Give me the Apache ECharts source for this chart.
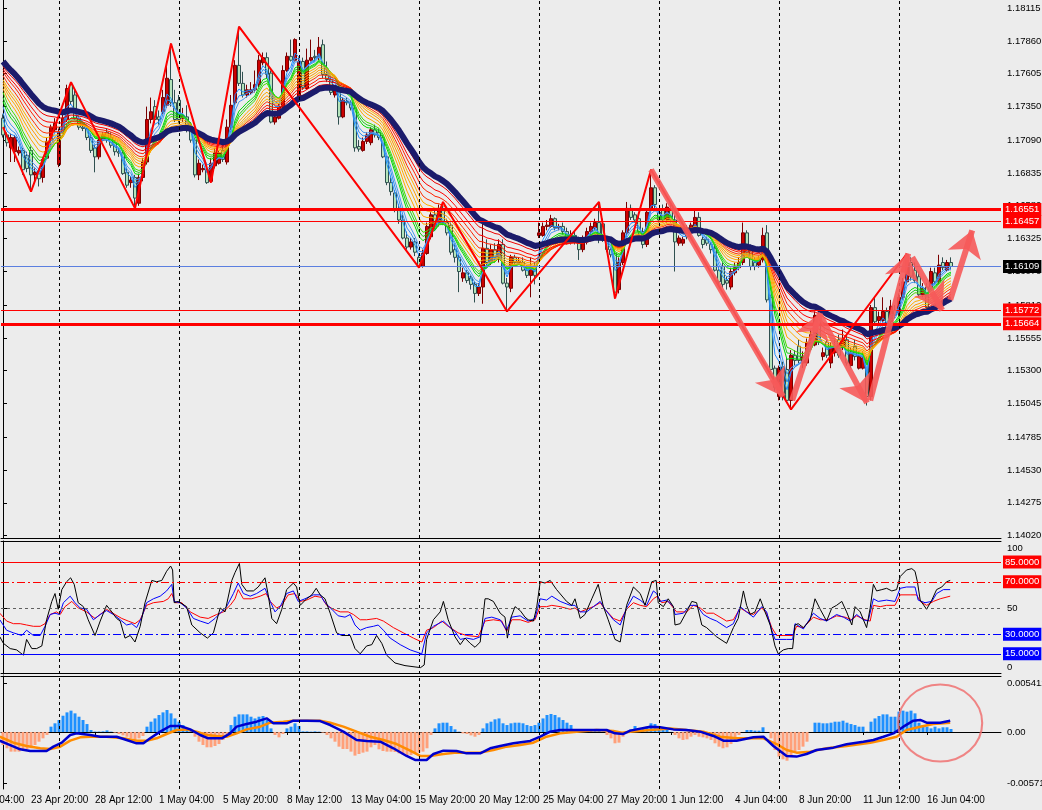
<!DOCTYPE html>
<html><head><meta charset="utf-8">
<script src="https://cdn.jsdelivr.net/npm/echarts@6/dist/echarts.min.js"></script>
<style>html,body{margin:0;padding:0;background:#ececec;}#c{width:1042px;height:810px;}</style>
</head><body><div id="c"></div>
<script>
// ---- DATA ----
// H4 candles [open, close, low, high], bar 0 = 22 Apr 16:00
const ohlc = [
[1.1726,1.1713,1.1711,1.1729],[1.1713,1.1707,1.1704,1.1715],[1.1703,1.1711,1.1692,1.1714],[1.1700,1.1711,1.1692,1.1713],[1.1699,1.1701,1.1697,1.1704],
[1.1701,1.1686,1.1682,1.1703],[1.1697,1.1687,1.1684,1.1700],[1.1701,1.1682,1.1669,1.1704],[1.1682,1.1684,1.1676,1.1687],[1.1685,1.1679,1.1673,1.1687],
[1.1680,1.1694,1.1676,1.1696],[1.1695,1.1708,1.1694,1.1711],[1.1709,1.1719,1.1705,1.1721],[1.1717,1.1722,1.1715,1.1726],[1.1690,1.1715,1.1688,1.1718],
[1.1715,1.1726,1.1714,1.1730],[1.1725,1.1749,1.1723,1.1752],[1.1752,1.1739,1.1737,1.1754],[1.1744,1.1726,1.1725,1.1748],[1.1726,1.1719,1.1717,1.1728],
[1.1719,1.1718,1.1716,1.1721],[1.1718,1.1711,1.1709,1.1721],[1.1711,1.1701,1.1699,1.1714],[1.1703,1.1696,1.1684,1.1705],[1.1696,1.1709,1.1694,1.1711],
[1.1709,1.1713,1.1708,1.1715],[1.1715,1.1709,1.1707,1.1718],[1.1711,1.1705,1.1703,1.1715],[1.1707,1.1700,1.1697,1.1709],[1.1700,1.1699,1.1696,1.1703],
[1.1699,1.1683,1.1682,1.1701],[1.1684,1.1674,1.1672,1.1687],[1.1676,1.1678,1.1672,1.1681],[1.1680,1.1664,1.1656,1.1682],[1.1660,1.1680,1.1658,1.1683],
[1.1680,1.1692,1.1677,1.1695],[1.1692,1.1725,1.1690,1.1735],[1.1725,1.1731,1.1722,1.1742],[1.1735,1.1725,1.1722,1.1740],[1.1727,1.1725,1.1721,1.1732],
[1.1731,1.1742,1.1729,1.1748],[1.1736,1.1757,1.1734,1.1770],[1.1756,1.1738,1.1735,1.1784],[1.1738,1.1725,1.1723,1.1748],[1.1740,1.1725,1.1722,1.1744],
[1.1726,1.1728,1.1723,1.1734],[1.1727,1.1717,1.1715,1.1736],[1.1719,1.1709,1.1707,1.1723],[1.1709,1.1682,1.1680,1.1711],[1.1682,1.1691,1.1678,1.1694],
[1.1686,1.1687,1.1684,1.1690],[1.1686,1.1676,1.1675,1.1690],[1.1677,1.1691,1.1676,1.1695],[1.1689,1.1699,1.1687,1.1703],[1.1691,1.1699,1.1690,1.1701],
[1.1701,1.1694,1.1692,1.1705],[1.1692,1.1719,1.1690,1.1725],[1.1719,1.1736,1.1717,1.1744],[1.1738,1.1767,1.1736,1.1771],[1.1767,1.1753,1.1751,1.1797],
[1.1753,1.1744,1.1742,1.1762],[1.1744,1.1748,1.1742,1.1752],[1.1746,1.1748,1.1744,1.1754],[1.1748,1.1752,1.1746,1.1763],[1.1752,1.1771,1.1750,1.1775],
[1.1769,1.1773,1.1767,1.1777],[1.1773,1.1760,1.1757,1.1777],[1.1761,1.1723,1.1722,1.1763],[1.1723,1.1727,1.1721,1.1730],[1.1726,1.1735,1.1725,1.1737],
[1.1735,1.1763,1.1732,1.1767],[1.1763,1.1774,1.1762,1.1777],[1.1774,1.1771,1.1770,1.1787],[1.1771,1.1787,1.1770,1.1788],[1.1742,1.1770,1.1740,1.1773],
[1.1770,1.1750,1.1748,1.1773],[1.1749,1.1771,1.1748,1.1780],[1.1771,1.1773,1.1770,1.1787],[1.1774,1.1773,1.1770,1.1779],[1.1773,1.1781,1.1771,1.1789],
[1.1783,1.1760,1.1757,1.1787],[1.1760,1.1756,1.1754,1.1770],[1.1756,1.1746,1.1744,1.1759],[1.1744,1.1748,1.1742,1.1751],[1.1748,1.1727,1.1721,1.1749],
[1.1727,1.1740,1.1726,1.1742],[1.1739,1.1738,1.1736,1.1742],[1.1738,1.1734,1.1732,1.1740],[1.1734,1.1703,1.1700,1.1736],[1.1704,1.1702,1.1700,1.1709],
[1.1701,1.1708,1.1700,1.1711],[1.1708,1.1713,1.1706,1.1715],[1.1707,1.1717,1.1705,1.1719],[1.1717,1.1713,1.1711,1.1721],[1.1715,1.1711,1.1709,1.1718],
[1.1711,1.1696,1.1695,1.1713],[1.1696,1.1676,1.1674,1.1697],[1.1676,1.1669,1.1666,1.1680],[1.1668,1.1655,1.1653,1.1670],[1.1655,1.1647,1.1644,1.1659],
[1.1647,1.1633,1.1632,1.1651],[1.1633,1.1626,1.1624,1.1638],[1.1626,1.1630,1.1624,1.1633],[1.1630,1.1622,1.1619,1.1633],[1.1618,1.1611,1.1610,1.1620],
[1.1611,1.1621,1.1610,1.1624],[1.1621,1.1642,1.1620,1.1645],[1.1634,1.1651,1.1632,1.1653],[1.1651,1.1642,1.1639,1.1656],[1.1645,1.1656,1.1642,1.1659],
[1.1656,1.1645,1.1643,1.1661],[1.1645,1.1637,1.1635,1.1648],[1.1643,1.1622,1.1620,1.1645],[1.1624,1.1618,1.1614,1.1628],[1.1618,1.1607,1.1591,1.1620],
[1.1602,1.1606,1.1599,1.1610],[1.1606,1.1600,1.1598,1.1608],[1.1602,1.1597,1.1593,1.1604],[1.1597,1.1590,1.1583,1.1599],[1.1590,1.1595,1.1588,1.1598],
[1.1595,1.1625,1.1582,1.1644],[1.1625,1.1614,1.1612,1.1632],[1.1614,1.1624,1.1612,1.1628],[1.1624,1.1618,1.1614,1.1629],[1.1618,1.1628,1.1614,1.1632],
[1.1628,1.1598,1.1597,1.1632],[1.1598,1.1595,1.1576,1.1602],[1.1594,1.1618,1.1591,1.1620],[1.1618,1.1614,1.1612,1.1620],[1.1614,1.1615,1.1612,1.1618],
[1.1614,1.1608,1.1607,1.1618],[1.1608,1.1604,1.1602,1.1612],[1.1604,1.1611,1.1587,1.1618],[1.1611,1.1604,1.1597,1.1614],[1.1635,1.1637,1.1633,1.1645],
[1.1635,1.1642,1.1634,1.1645],[1.1642,1.1643,1.1639,1.1647],[1.1642,1.1648,1.1641,1.1651],[1.1648,1.1641,1.1639,1.1649],[1.1641,1.1642,1.1639,1.1644],
[1.1642,1.1638,1.1636,1.1645],[1.1638,1.1630,1.1628,1.1641],[1.1630,1.1635,1.1628,1.1639],[1.1635,1.1632,1.1628,1.1638],[1.1632,1.1624,1.1616,1.1634],
[1.1624,1.1632,1.1622,1.1635],[1.1630,1.1638,1.1628,1.1641],[1.1638,1.1642,1.1635,1.1645],[1.1641,1.1645,1.1639,1.1648],[1.1645,1.1632,1.1629,1.1661],
[1.1644,1.1632,1.1630,1.1648],[1.1632,1.1624,1.1622,1.1634],[1.1624,1.1620,1.1618,1.1625],[1.1621,1.1591,1.1586,1.1624],[1.1593,1.1614,1.1590,1.1618],
[1.1614,1.1637,1.1612,1.1639],[1.1637,1.1656,1.1635,1.1661],[1.1656,1.1649,1.1647,1.1659],[1.1651,1.1647,1.1645,1.1653],[1.1648,1.1638,1.1635,1.1651],
[1.1638,1.1628,1.1625,1.1641],[1.1628,1.1653,1.1626,1.1655],[1.1656,1.1672,1.1655,1.1686],[1.1672,1.1659,1.1656,1.1674],[1.1653,1.1647,1.1645,1.1655],
[1.1655,1.1647,1.1645,1.1659],[1.1647,1.1657,1.1645,1.1660],[1.1655,1.1647,1.1645,1.1659],[1.1647,1.1630,1.1607,1.1651],[1.1629,1.1633,1.1627,1.1635],
[1.1629,1.1632,1.1627,1.1634],[1.1641,1.1634,1.1632,1.1643],[1.1637,1.1643,1.1635,1.1645],[1.1642,1.1649,1.1640,1.1656],[1.1649,1.1635,1.1634,1.1653],
[1.1632,1.1628,1.1625,1.1634],[1.1632,1.1629,1.1627,1.1634],[1.1628,1.1624,1.1621,1.1630],[1.1625,1.1608,1.1607,1.1628],[1.1608,1.1599,1.1597,1.1611],
[1.1611,1.1597,1.1594,1.1614],[1.1600,1.1598,1.1593,1.1603],[1.1595,1.1607,1.1593,1.1610],[1.1606,1.1610,1.1604,1.1614],[1.1610,1.1614,1.1608,1.1618],
[1.1614,1.1637,1.1612,1.1645],[1.1637,1.1622,1.1620,1.1639],[1.1624,1.1611,1.1608,1.1628],[1.1614,1.1611,1.1608,1.1618],[1.1612,1.1616,1.1610,1.1619],
[1.1616,1.1635,1.1614,1.1641],[1.1637,1.1585,1.1583,1.1643],[1.1587,1.1531,1.1529,1.1589],[1.1532,1.1517,1.1514,1.1534],[1.1510,1.1532,1.1507,1.1534],
[1.1533,1.1510,1.1507,1.1537],[1.1531,1.1507,1.1505,1.1540],[1.1507,1.1542,1.1500,1.1546],[1.1542,1.1538,1.1534,1.1546],[1.1549,1.1538,1.1536,1.1554],
[1.1536,1.1541,1.1532,1.1545],[1.1536,1.1552,1.1534,1.1555],[1.1549,1.1558,1.1546,1.1562],[1.1550,1.1573,1.1549,1.1576],[1.1573,1.1552,1.1550,1.1577],
[1.1541,1.1544,1.1538,1.1548],[1.1552,1.1542,1.1540,1.1555],[1.1536,1.1549,1.1532,1.1552],[1.1544,1.1549,1.1541,1.1554],[1.1554,1.1542,1.1540,1.1558],
[1.1548,1.1554,1.1546,1.1562],[1.1554,1.1536,1.1534,1.1558],[1.1534,1.1544,1.1532,1.1548],[1.1549,1.1541,1.1538,1.1554],[1.1532,1.1541,1.1531,1.1545],
[1.1532,1.1540,1.1531,1.1545],[1.1538,1.1510,1.1503,1.1541],[1.1510,1.1579,1.1507,1.1581],[1.1579,1.1568,1.1566,1.1587],[1.1569,1.1572,1.1567,1.1576],
[1.1569,1.1576,1.1568,1.1587],[1.1576,1.1563,1.1562,1.1579],[1.1568,1.1580,1.1566,1.1585],[1.1577,1.1573,1.1571,1.1581],[1.1575,1.1587,1.1572,1.1590],
[1.1587,1.1599,1.1585,1.1602],[1.1599,1.1620,1.1597,1.1621],[1.1614,1.1603,1.1600,1.1618],[1.1608,1.1600,1.1598,1.1614],[1.1603,1.1589,1.1587,1.1607],
[1.1589,1.1594,1.1587,1.1598],[1.1595,1.1579,1.1577,1.1598],[1.1595,1.1607,1.1593,1.1610],[1.1606,1.1599,1.1597,1.1610],[1.1599,1.1612,1.1597,1.1620],
[1.1614,1.1610,1.1608,1.1618],[1.1608,1.1614,1.1607,1.1616],[1.1614,1.16109,1.1608,1.1618]
];
// moving-average ribbon: periods, start values read at the first bar, colours
const ribbonPeriods = [3,4,5,7,8,9,11,13,15,17,19,22,25,29];
const ribbonSeeds   = [1.1725,1.1730,1.1735,1.1739,1.1742,1.1746,1.1749,1.1752,1.1754,1.1756,1.1759,1.1762,1.1764,1.1766];
const ribbonColors  = ['#1e8fff','#2f8ff0','#4a9af0','#00dd00','#22cc22','#44dd00','#ffa500','#ffaa00','#ff9900','#ffb000','#ff3300','#ff2000','#ff0000','#ee0000'];
const slowPeriod = 33, slowSeed = 1.1770;
// zigzag swing points [bar, price]
const zigzag = [[0,1.1719],[7,1.1669],[17,1.1754],[33,1.1656],[42,1.1784],[52,1.1676],[59,1.1797],[104,1.1610],[110,1.1661],[126,1.1576],[149,1.1661],[153,1.1586],[162,1.1686],[197,1.1500],[226,1.1621]];
// hand-drawn arrows [from, to]
const arrows = [
 [[162,1.1686],[195,1.1510]],
 [[197.3,1.1507],[204.3,1.1575]],
 [[204.3,1.1573],[216,1.1505]],
 [[216.8,1.1507],[226.3,1.1621]],
 [[227.3,1.1618],[234.8,1.1577]],
 [[236.8,1.1585],[242.3,1.1639]]
];
const levelPrices = [1.16551, 1.16457, 1.15772, 1.15664];
const levelWidths = [3, 1, 1, 3];
const bidPrice = 1.16109;
const priceTicks = [1.18115,1.17860,1.17605,1.17350,1.17090,1.16835,1.16580,1.16325,1.16070,1.15810,1.15555,1.15300,1.15045,1.14785,1.14530,1.14275,1.14020];
const weekStarts = [14,44,74,104,134,164,194,224];
const timeLabelIdx = [7,23,39,55,71,87,103,119,135,151,167,183,199,215,231];
const timeLabelText = ['23 Apr 20:00','28 Apr 12:00','1 May 04:00','5 May 20:00','8 May 12:00','13 May 04:00','15 May 20:00','20 May 12:00','25 May 04:00','27 May 20:00','1 Jun 12:00','4 Jun 04:00','8 Jun 20:00','11 Jun 12:00','16 Jun 04:00'];
// oscillator window [bar, value]
const oscBlack = [[-0.8,28],[0.1,23],[1.8,19],[3.4,18],[5.1,14],[5.9,26],[7.2,19],[8.4,19],[9.7,21],[10.9,41],[12.2,55],[13,61],[13.8,49],[14.7,64],[15.9,70],[16.9,73],[17.8,68],[18.8,54],[20.1,51],[21.3,41],[23,29],[24.3,40],[25.9,52],[27.2,47],[28.4,42],[29.3,40],[30.5,27],[31.8,29],[33,24],[34.3,36],[35.5,54],[37.2,71],[38.4,70],[39.7,71],[40.9,78],[41.9,82],[42.4,79],[42.8,54],[43.8,55],[45.9,51],[47.2,37],[49.3,31],[51.1,27],[52.6,31],[54.3,50],[55.5,47],[57.2,71],[58,77],[59.1,84],[59.7,68],[60.9,63],[62.6,63],[63.8,66],[65.5,73],[66.3,60],[67.2,42],[68.4,38],[69.7,49],[70.9,64],[72.6,69],[73.4,66],[74.3,52],[75.9,57],[77.2,60],[78.3,65],[79.3,60],[80.5,57],[81.8,46],[83.4,31],[84.7,29],[86.8,29],[88,19],[89.3,15],[90.9,21],[92.2,22],[93.4,29],[94.7,23],[95.9,14],[98,8],[100.5,6],[103,5],[104.4,4.5],[105.3,6.5],[105.9,26],[107.6,41],[109.3,47],[110.1,55],[111.3,41],[113,28],[114.3,22],[115.5,27],[116.8,23],[118,20],[119.3,24],[120.5,57],[121.3,57],[122.6,55],[124.3,46],[125.5,43],[126.1,27],[126.9,42],[128,51],[129.3,48],[130.5,43],[131.3,41],[132.6,40],[133.4,50],[134.3,70],[135.5,69],[136.8,71],[138.4,64],[140.9,55],[142.2,52],[143,57],[144.3,42],[145.5,45],[147.2,57],[148.8,68],[150.1,51],[151.3,41],[153,26],[154.3,24],[155.9,52],[157.6,66],[159.3,61],[160.5,52],[162.2,70],[163.3,71],[163.8,54],[165.1,51],[166.3,57],[167.6,51],[168,37],[169.3,38],[170.9,47],[172.2,55],[173.4,54],[174.7,37],[175.9,35],[178.4,28],[180.9,23],[182.6,35],[183.8,42],[185.1,63],[185.9,52],[186.8,45],[188,47],[189.3,57],[190.5,47],[191.8,37],[193,21],[193.8,15],[195.1,18],[196.3,19],[197.4,19],[198,37],[198.8,38],[200.1,35],[201.8,41],[203,57],[204.3,49],[205.9,40],[207.2,50],[208.4,52],[209.7,55],[210.9,47],[212.2,37],[213,51],[214.3,47],[215.1,41],[215.9,35],[216.8,50],[217.6,68],[218.4,63],[219.7,64],[220.9,65],[222.2,63],[223.4,64],[224.3,74],[225.9,79],[227.2,80],[228,78],[228.6,70],[229.3,56],[230.9,49],[232.2,56],[233.4,64],[234.7,66],[235.9,70],[236.8,71]];
const oscBlue = [[-0.8,41],[0.9,33],[2.6,31],[4.7,29],[5.9,33],[7.6,29],[9.3,29],[10.5,36],[11.8,45],[13,46],[14.1,45],[15.1,54],[16.8,59],[18,54],[19.3,50],[20.9,49],[22.6,41],[24.3,45],[25.9,48],[27.6,45],[29.3,41],[30.9,37],[32.2,38],[33.4,35],[34.7,43],[35.9,54],[37.6,57],[39.3,59],[40.9,63],[42.2,68],[42.8,55],[44.3,54],[45.9,50],[47.6,42],[49.3,40],[51.3,38],[53,42],[54.3,46],[55.9,51],[57.6,61],[58.8,69],[60.1,61],[61.8,59],[63.4,61],[65.5,65],[66.8,55],[68,47],[69.3,51],[70.9,61],[72.6,63],[73.8,55],[75.5,57],[77.6,60],[79.3,60],[80.5,54],[82.2,49],[83.8,44],[85.5,43],[86.8,45],[88,37],[89.3,33],[90.9,35],[92.6,36],[93.8,37],[95.1,33],[96.8,27],[99.3,22],[101.8,18],[104.7,15],[105.9,31],[107.6,36],[110.1,40],[111.8,35],[113,32],[114.3,26],[115.9,27],[117.6,26],[119.3,28],[120.5,42],[122.2,43],[124.3,41],[125.9,33],[127.2,43],[129.3,44],[131.3,40],[133,42],[134.3,57],[135.9,56],[137.2,59],[139.3,55],[141.8,52],[143,52],[144.3,47],[145.9,47],[147.6,51],[149.3,55],[150.5,49],[152.6,41],[154.3,37],[155.9,50],[157.6,59],[159.3,56],[160.9,52],[162.6,63],[163.4,61],[164.3,55],[165.9,56],[167.6,51],[168,45],[170.1,46],[171.8,52],[173.4,52],[175.1,45],[176.8,42],[178.4,40],[180.9,35],[182.6,38],[184.3,51],[185.9,47],[187.6,43],[189.7,51],[190.9,47],[192.2,33],[193,26],[195.9,26],[197.4,26],[198,38],[200.1,34],[202.6,46],[204.3,42],[205.9,40],[208.4,45],[210.1,43],[211.8,40],[213.4,45],[215.1,41],[216.3,40],[217.6,57],[218.8,55],[220.9,56],[223,55],[224.3,65],[225.9,66],[228,66],[228.8,56],[230.5,54],[232.2,55],[233.4,61],[235.1,64],[236.8,64]];
const oscRed = [[-0.8,46],[0.9,40],[2.6,38],[4.3,38],[5.9,37],[7.6,36],[9.3,36],[10.5,38],[11.8,45],[13.4,47],[14.3,45],[15.5,51],[17.2,55],[18.8,50],[20.9,47],[23,42],[24.3,45],[25.9,49],[28,45],[29.7,42],[31.3,40],[33,38],[34.3,41],[35.9,52],[37.6,54],[40.1,55],[41.3,57],[42.2,61],[43,54],[44.7,54],[46.8,47],[49.3,43],[51.3,42],[53.4,45],[55.1,47],[56.8,52],[58,57],[58.8,64],[60.1,57],[62.2,57],[64.3,59],[65.8,61],[66.8,55],[68.4,50],[69.7,52],[71.3,60],[73,61],[74.3,55],[75.9,56],[78,59],[79.7,58],[80.9,52],[82.6,49],[84.3,47],[86.3,47],[87.6,45],[89.3,41],[90.9,41],[93.4,42],[95.1,40],[97.6,35],[100.1,31],[102.6,27],[104.7,24],[105.9,33],[107.6,35],[109.7,40],[111.3,36],[113.8,31],[115.9,29],[118.8,28],[120.5,40],[122.6,41],[124.7,40],[125.9,32],[127.2,41],[129.3,41],[131.3,39],[133,41],[134.3,51],[135.9,51],[137.2,52],[139.3,51],[141.8,49],[143,50],[144.3,47],[145.9,49],[147.6,51],[149.3,54],[150.5,49],[152.6,42],[154.3,40],[155.9,49],[157.6,54],[159.3,52],[160.9,51],[162.6,57],[163.6,59],[164.7,54],[166.3,55],[167.6,50],[168.4,47],[170.9,47],[172.6,52],[174.3,50],[175.9,46],[177.6,46],[180.9,40],[182.6,41],[184.3,50],[185.9,47],[187.6,45],[189.7,50],[190.9,46],[192.2,35],[193.4,29],[197.4,29],[198.4,36],[200.1,35],[202.6,43],[204.3,41],[206.3,41],[208.4,44],[210.5,43],[212.2,41],[213.4,44],[215.5,41],[216.8,40],[217.6,52],[219.3,51],[220.9,52],[223,52],[224.3,60],[226.8,60],[228.4,60],[229.3,55],[230.9,52],[232.6,55],[234.3,57],[236.8,59]];
const oscLevels = [85, 70, 50, 30, 15];
// MACD-type window
const macdHist = [-0.00144,-0.0018,-0.00217,-0.00217,-0.00217,-0.002,-0.0019,-0.0018,-0.00144,-0.00107,
-0.0007,-0.00033,0.00059,0.00096,0.00133,0.0018,0.00217,0.00236,0.00206,0.00169,
0.00133,0.00088,0.00022,0.00005,0.00005,0.00007,0.00018,0.00004,-0.00007,-0.00022,
-0.00037,-0.00052,-0.0007,-0.00088,-0.0007,-0.00044,0.00059,0.00114,0.0015,0.00188,
0.00217,0.00243,0.00206,0.0015,0.00114,0.00077,0.0004,0.00022,-0.00052,-0.00107,
-0.00144,-0.00169,-0.00169,-0.00155,-0.00133,-0.00088,-0.00033,0.00077,0.00169,0.00195,
0.00195,0.00195,0.00169,0.0015,0.00169,0.00177,0.00133,0.0004,-0.00033,-0.00059,
-0.00022,0.0004,0.00059,0.00096,0.00066,0.00007,0.00007,0.00004,0.00007,0.00004,
-0.00007,-0.00033,-0.0007,-0.00107,-0.00162,-0.00188,-0.00188,-0.00217,-0.00261,-0.00243,
-0.00228,-0.00217,-0.00169,-0.00144,-0.00191,-0.0021,-0.00217,-0.00217,-0.00221,-0.00236,
-0.00247,-0.00254,-0.00254,-0.00236,-0.00228,-0.00217,-0.0018,-0.00033,0.0004,0.00096,
0.00103,0.00103,0.00066,0.00029,0.00004,-0.00015,-0.00022,-0.00037,-0.00052,-0.00033,
0.0004,0.00096,0.00114,0.0014,0.0015,0.00096,0.00077,0.00096,0.00103,0.00103,
0.00096,0.00077,0.00066,0.00077,0.00103,0.0015,0.00188,0.00199,0.00188,0.00162,
0.00133,0.00103,0.00077,0.00029,0.00007,0.00015,0.00015,0.00015,0.00018,0.00022,
0.00002,-0.00033,-0.0007,-0.00125,-0.00118,-0.00052,0.00002,0.00029,0.00066,0.00029,
0.0004,0.00059,0.00096,0.00088,0.00029,0.00022,0.00029,0.00002,-0.00033,-0.0007,
-0.00088,-0.00081,-0.00052,-0.00033,-0.00052,-0.00059,-0.0007,-0.00088,-0.00125,-0.00162,
-0.0018,-0.00169,-0.00133,-0.00088,-0.00033,0,0.00022,0.00022,0.00015,0.00015,
0.00052,0,-0.0007,-0.00199,-0.00272,-0.00302,-0.00317,-0.00265,-0.00217,-0.00199,
-0.00162,-0.00107,0,0.00103,0.00103,0.00096,0.00096,0.00103,0.00114,0.00114,
0.00125,0.00103,0.00088,0.00077,0.00059,0.00059,0.00004,0.00114,0.0015,0.00177,
0.00195,0.00195,0.00169,0.00169,0.00225,0.00236,0.00225,0.00236,0.00206,0.00103,
0.00077,0.00059,0.0004,0.00059,0.0004,0.00052,0.00052,0.00033];
const macdMain = [[-0.8,-0.00096],[1.8,-0.00144],[4.3,-0.00191],[6.8,-0.0021],[10.9,-0.0021],[12.6,-0.00162],[14.7,-0.00118],[16.8,-0.00033],[18.4,-0.00015],[21.8,-0.00033],[24.3,-0.00052],[28.4,-0.00052],[30.9,-0.00088],[33.4,-0.00125],[35.1,-0.00125],[36.8,-0.0007],[39.3,0.00004],[41.8,0.00066],[44.3,0.00066],[46.8,0.00029],[49.3,-0.00033],[51.3,-0.0007],[54.7,-0.0007],[56.8,-0.00015],[58.4,0.00059],[60.9,0.00088],[63.4,0.00114],[65.9,0.00151],[67.6,0.00096],[70.9,0.00096],[72.6,0.00125],[75.9,0.00125],[79.3,0.00121],[81.8,0.00077],[85.1,0.00004],[88.4,-0.00088],[90.9,-0.00099],[94.3,-0.00107],[97.6,-0.0018],[100.9,-0.00265],[103,-0.00309],[105.9,-0.00309],[107.6,-0.00243],[110.1,-0.00206],[113.4,-0.0021],[115.9,-0.00236],[119.3,-0.00236],[121.8,-0.0018],[124.3,-0.00155],[127.6,-0.00125],[131.8,-0.00099],[134.3,-0.00052],[136.8,0.00004],[139.3,0.00022],[148.4,0.00022],[150.9,0.00022],[153,-0.00015],[155.1,-0.00022],[156.8,0.00015],[161.8,0.00059],[164.3,0.00052],[167.6,0.00029],[170.9,0.00022],[174.3,0.00004],[177.6,-0.00044],[180.1,-0.00096],[183.4,-0.00096],[187.6,-0.00059],[190.1,-0.00052],[192.6,-0.00155],[195.9,-0.00265],[198.4,-0.00272],[200.9,-0.00243],[203.4,-0.00199],[207.6,-0.00173],[210.9,-0.00136],[215.1,-0.00107],[217.6,-0.00088],[220.1,-0.00052],[222.6,-0.00015],[225.1,0.00059],[227.6,0.00125],[229.3,0.00133],[230.9,0.00103],[234.3,0.00103],[236.8,0.00125]];
const macdSignal = [[-0.8,-0.00052],[2.6,-0.00118],[5.9,-0.00155],[9.3,-0.0018],[11.8,-0.00188],[14.3,-0.00162],[16.8,-0.00096],[19.3,-0.00059],[21.8,-0.00052],[25.9,-0.00052],[30.1,-0.0007],[33.4,-0.00096],[35.9,-0.00096],[38.4,-0.0007],[40.9,-0.00022],[43.4,0.00022],[45.9,0.00029],[48.4,0.00004],[50.9,-0.00033],[53.4,-0.00044],[55.9,-0.00052],[58.4,-0.00015],[60.9,0.00029],[64.3,0.00059],[66.8,0.00103],[70.1,0.00114],[72.6,0.00125],[79.3,0.00125],[81.8,0.00103],[85.1,0.00059],[88.4,0.00004],[91.8,-0.00052],[95.1,-0.00088],[98.4,-0.00133],[101.8,-0.00206],[104.3,-0.00265],[106.8,-0.00265],[110.1,-0.00243],[113.4,-0.00228],[119.3,-0.00228],[122.6,-0.00199],[125.9,-0.00162],[129.3,-0.00144],[132.6,-0.00118],[135.9,-0.00052],[139.3,-0.00015],[143.4,0.00004],[148.4,0.00022],[152.6,0.00011],[154.7,-0.00007],[156.8,0.00004],[161.8,0.00022],[166.8,0.0004],[170.9,0.00022],[175.1,0.00004],[179.3,-0.00052],[183.4,-0.0007],[190.1,-0.0007],[193.4,-0.00133],[195.9,-0.00199],[198.4,-0.00228],[201.8,-0.00217],[205.9,-0.0018],[210.9,-0.00155],[216.8,-0.00118],[220.1,-0.00088],[223.4,-0.00052],[225.9,0.00022],[229.3,0.00059],[232.6,0.00088],[236.8,0.00103]];
const macdCircle = [234.3, 0.00099];

// ---- CHART ----
const N = 250;
const F = '"Liberation Sans", Arial, sans-serif';
const cats = Array.from({length: N}, (_, i) => String(i));
const closes = ohlc.map(r => r[1]);
function ema(period, seed) {
  const k = 2 / (period + 1); let e = seed;
  return closes.map((c, i) => { if (i > 0) e += k * (c - e); return +e.toFixed(6); });
}
const X = {min: -0.5, max: N - 0.5};
function vLines(xi, yi) {
  return {type: 'line', xAxisIndex: xi, yAxisIndex: yi, data: [], z: 1, silent: true,
    markLine: {symbol: 'none', silent: true, animation: false, label: {show: false},
      lineStyle: {color: '#000', type: [3, 3], width: 1},
      data: weekStarts.map(v => ({xAxis: v}))}};
}
function tag(text, bg) {
  return {show: true, position: 'end', distance: 2, formatter: text, backgroundColor: bg, color: '#fff',
    fontFamily: F, fontSize: 9.5, padding: [2, 2, 1, 2]};
}
const series = [];
series.push(vLines(1, 0), vLines(2, 1), vLines(3, 2));
series.push({type: 'candlestick', xAxisIndex: 0, yAxisIndex: 0, data: ohlc, barWidth: 3, z: 2,
  itemStyle: {color: '#cc0000', color0: '#b4e4ba', borderColor: '#7a0000', borderColor0: '#2f4f4f', borderWidth: 1},
  markLine: {symbol: 'none', silent: true, animation: false, precision: 5,
    data: levelPrices.map((v, k) => ({yAxis: v, lineStyle: {color: '#ff0000', width: levelWidths[k], type: 'solid'},
      label: tag(v.toFixed(5), '#ff0000')})).concat([{yAxis: bidPrice, lineStyle: {color: '#5b7fe0', width: 1, type: 'solid'},
      label: tag(bidPrice.toFixed(5), '#000000')}])}});
ribbonPeriods.forEach((p, k) => series.push({type: 'line', xAxisIndex: 0, yAxisIndex: 0, data: ema(p, ribbonSeeds[k]),
  symbol: 'none', z: 3, lineStyle: {width: 1, color: ribbonColors[k]}}));
series.push({type: 'line', xAxisIndex: 0, yAxisIndex: 0, data: ema(slowPeriod, slowSeed), symbol: 'none', z: 4,
  lineStyle: {width: 6, color: '#1b1b6b'}});
series.push({type: 'line', xAxisIndex: 1, yAxisIndex: 0, data: zigzag, symbol: 'none', z: 5,
  lineStyle: {width: 2, color: '#ff0000'}});
series.push({type: 'lines', coordinateSystem: 'cartesian2d', xAxisIndex: 1, yAxisIndex: 0, z: 6,
  symbol: ['none', 'arrow'], symbolSize: [20, 26],
  lineStyle: {color: '#f65a5a', width: 6, opacity: 0.9},
  data: arrows.map(a => ({coords: a}))});
// oscillator
const oscStyle = {85: ['#ff0000', 'solid', '#ff0000'], 70: ['#ff0000', [8, 3, 2, 3], '#ff0000'], 50: ['#606060', [3, 3], null],
  30: ['#0000ff', [8, 3, 2, 3], '#0000ff'], 15: ['#0000ff', 'solid', '#0000ff']};
series.push({type: 'line', xAxisIndex: 2, yAxisIndex: 1, data: [], z: 2, silent: true,
  markLine: {symbol: 'none', silent: true, animation: false, precision: 4,
    data: oscLevels.map(v => ({yAxis: v, lineStyle: {color: oscStyle[v][0], type: oscStyle[v][1], width: 1},
      label: oscStyle[v][2] ? tag(v.toFixed(4), oscStyle[v][2]) : {show: false}}))}});
[[oscRed, '#ff0000'], [oscBlue, '#0000ff'], [oscBlack, '#000000']].forEach(([d, c]) =>
  series.push({type: 'line', xAxisIndex: 2, yAxisIndex: 1, data: d, symbol: 'none', z: 3, lineStyle: {width: 1, color: c}}));
// macd
series.push({type: 'bar', xAxisIndex: 6, yAxisIndex: 2, data: macdHist, barWidth: 3, z: 2,
  itemStyle: {color: p => p.value >= 0 ? '#1e90ff' : '#ffa07a'}});
series.push({type: 'line', xAxisIndex: 3, yAxisIndex: 2, data: macdSignal, symbol: 'none', z: 3, lineStyle: {width: 2.5, color: '#ff8c00'}});
series.push({type: 'line', xAxisIndex: 3, yAxisIndex: 2, data: macdMain, symbol: 'none', z: 4, lineStyle: {width: 2.5, color: '#0000cd'}});
series.push({type: 'scatter', xAxisIndex: 3, yAxisIndex: 2, data: [macdCircle], symbol: 'circle', symbolSize: [84, 77], z: 5,
  itemStyle: {color: 'rgba(0,0,0,0)', borderColor: '#f06a6a', borderWidth: 2}});

const gridStyle = {show: true, borderWidth: 0, backgroundColor: '#ececec', containLabel: false, outerBoundsMode: 'none'};
const axisLbl = {fontFamily: F, fontSize: 9.5, color: '#000', margin: 6};
const frame = {axisLine: {show: true, lineStyle: {color: '#000', width: 1}}, axisTick: {show: false}, axisLabel: {show: false}, splitLine: {show: false}};
const option = {
  animation: false,
  backgroundColor: '#ececec',
  grid: [
    Object.assign({left: 1, top: -1, width: 1000, height: 539}, gridStyle),
    Object.assign({left: 1, top: 541, width: 1000, height: 133}, gridStyle),
    Object.assign({left: 1, top: 676, width: 1000, height: 113}, gridStyle)
  ],
  xAxis: [
    {type: 'category', gridIndex: 0, data: cats, boundaryGap: true, show: false},
    Object.assign({type: 'value', gridIndex: 0, position: 'bottom'}, frame, X),
    Object.assign({type: 'value', gridIndex: 1, position: 'bottom'}, frame, X),
    Object.assign({type: 'value', gridIndex: 2, splitLine: {show: false},
      axisLine: {show: true, lineStyle: {color: '#000'}},
      axisTick: {show: true, customValues: timeLabelIdx, length: 3, inside: false, lineStyle: {color: '#000'}},
      axisLabel: Object.assign({}, axisLbl, {fontSize: 10, customValues: timeLabelIdx, align: 'left', margin: 6,
        formatter: v => timeLabelText[timeLabelIdx.indexOf(Math.round(v))] || ''})}, X),
    Object.assign({type: 'value', gridIndex: 1, position: 'top'}, frame, X),
    Object.assign({type: 'value', gridIndex: 2, position: 'top'}, frame, X),
    {type: 'category', gridIndex: 2, data: cats, boundaryGap: true, show: false}
  ],
  yAxis: [
    {type: 'value', gridIndex: 0, position: 'right', min: 1.14002, max: 1.18185, splitLine: {show: false},
      axisLine: {show: true, lineStyle: {color: '#000'}},
      axisTick: {show: true, customValues: priceTicks, length: 4, lineStyle: {color: '#000'}},
      axisLabel: Object.assign({}, axisLbl, {customValues: priceTicks, formatter: v => v.toFixed(5)})},
    {type: 'value', gridIndex: 1, position: 'right', min: -0.4, max: 101.1, splitLine: {show: false},
      axisLine: {show: true, lineStyle: {color: '#000'}},
      axisTick: {show: true, customValues: [50], length: 4, lineStyle: {color: '#000'}},
      axisLabel: Object.assign({}, axisLbl, {customValues: [5, 50, 95.8],
        formatter: v => v > 90 ? '100' : (v < 10 ? '0' : '50')})},
    {type: 'value', gridIndex: 2, position: 'right', min: -0.0063, max: 0.00619, splitLine: {show: false},
      axisLine: {show: true, lineStyle: {color: '#000'}},
      axisTick: {show: true, customValues: [0.005412, 0, -0.00571], length: 4, lineStyle: {color: '#000'}},
      axisLabel: Object.assign({}, axisLbl, {customValues: [0.005412, 0, -0.00571],
        formatter: v => v > 0.001 ? '0.005412' : (v < -0.001 ? '-0.00571' : '0.00')})}
  ],
  graphic: [{type: 'text', x: -33, y: 795, style: {text: '23 Apr 04:00', font: '10px "Liberation Sans"', fill: '#000'}}],
  series: series
};
const chart = echarts.init(document.getElementById('c'));
chart.setOption(option);
</script>
</body></html>
